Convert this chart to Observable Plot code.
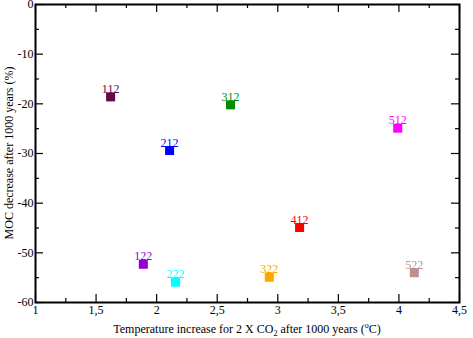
<!DOCTYPE html>
<html><head><meta charset="utf-8">
<script src="https://cdn.jsdelivr.net/npm/d3@7"></script>
<script src="https://cdn.jsdelivr.net/npm/@observablehq/plot@0.6"></script>
<style>body{margin:0;background:#fff} svg{overflow:visible} svg, svg text, svg g{font-family:"Liberation Serif","Times New Roman",serif !important; font-variant:normal !important}</style>
</head><body><div id="chart"></div>
<script>
const labels = ["112","122","212","222","312","322","412","512","522"];
const tempIncrease = [1.62,1.89,2.107,2.156,2.61,2.93,3.18,3.99,4.127];
const mocDecrease = [-18.6,-52.3,-29.4,-55.9,-20.2,-54.9,-44.9,-24.9,-54.0];
const colors = ["#670748","#9400d3","#0000ff","#00ffff","#008b00","#ffa500","#ff0000","#ff00ff","#bc8f8f"];
const xMajor = [1,1.5,2,2.5,3,3.5,4,4.5];
const xMinor = [1.25,1.75,2.25,2.75,3.25,3.75,4.25];
const yMajor = [0,-10,-20,-30,-40,-50,-60];
const yMinor = [-5,-15,-25,-35,-45,-55];

const W = 473, H = 338, mL = 35, mR = 14, mT = 4, mB = 36;
const pw = W - mL - mR, ph = H - mT - mB;
const data = labels.map((l,i) => ({label:l, x:tempIncrease[i], y:mocDecrease[i], c:colors[i]}));
const fmt = d => String(d).replace(".", ",");
const MAJ = 8, MIN = 4;
const FF = "Liberation Serif";

const svg = Plot.plot({
  width: W, height: H,
  marginLeft: mL, marginRight: mR, marginTop: mT, marginBottom: mB,
  style: {fontFamily: FF, fontSize: "12px", background: "#fff", color: "#000"},
  x: {domain: [1, 4.5]},
  y: {domain: [-60, 0]},
  marks: [
    Plot.axisX(xMajor, {tickSize: 0, tickPadding: 3, tickFormat: fmt, label: null, fontSize: 12, fontFamily: FF}),
    Plot.axisY(yMajor, {tickSize: 0, tickPadding: 2, tickFormat: d => String(d), label: null, fontSize: 12, fontFamily: FF}),
    Plot.tickX(xMajor, {x: d => d, insetTop: ph - MAJ, stroke: "#000", strokeWidth: 1.2}),
    Plot.tickX(xMajor, {x: d => d, insetBottom: ph - MAJ, stroke: "#000", strokeWidth: 1.2}),
    Plot.tickX(xMinor, {x: d => d, insetTop: ph - MIN, stroke: "#000", strokeWidth: 1.2}),
    Plot.tickX(xMinor, {x: d => d, insetBottom: ph - MIN, stroke: "#000", strokeWidth: 1.2}),
    Plot.tickY(yMajor, {y: d => d, insetRight: pw - MAJ, stroke: "#000", strokeWidth: 1.2}),
    Plot.tickY(yMajor, {y: d => d, insetLeft: pw - MAJ, stroke: "#000", strokeWidth: 1.2}),
    Plot.tickY(yMinor, {y: d => d, insetRight: pw - MIN, stroke: "#000", strokeWidth: 1.2}),
    Plot.tickY(yMinor, {y: d => d, insetLeft: pw - MIN, stroke: "#000", strokeWidth: 1.2}),
    Plot.dot(data, {x: "x", y: "y", symbol: "square", r: 5.1, fill: d => d.c, stroke: "none"}),
    Plot.text(data, {x: "x", y: "y", text: "label", fill: d => d.c, dy: -4, lineAnchor: "bottom", fontSize: 12, fontFamily: FF}),
    Plot.frame({stroke: "#000", strokeWidth: 2})
  ]
});

const s = d3.select(svg);
s.append("text")
  .attr("transform", `translate(13,${mT + ph/2}) rotate(-90)`)
  .attr("text-anchor", "middle")
  .attr("font-family", FF).attr("font-size", 12).attr("fill", "#000")
  .text("MOC decrease after 1000 years (%)");
const xl = s.append("text")
  .attr("x", mL + pw/2).attr("y", 333)
  .attr("text-anchor", "middle")
  .attr("font-family", FF).attr("font-size", 12).attr("fill", "#000");
xl.append("tspan").text("Temperature increase for 2 X CO");
xl.append("tspan").attr("font-size", 8).attr("dy", 3).text("2");
xl.append("tspan").attr("dy", -3).text(" after 1000 years (");
xl.append("tspan").attr("font-size", 8).attr("dy", -5).text("o");
xl.append("tspan").attr("dy", 5).text("C)");

document.getElementById("chart").appendChild(svg);
</script>
</body></html>
